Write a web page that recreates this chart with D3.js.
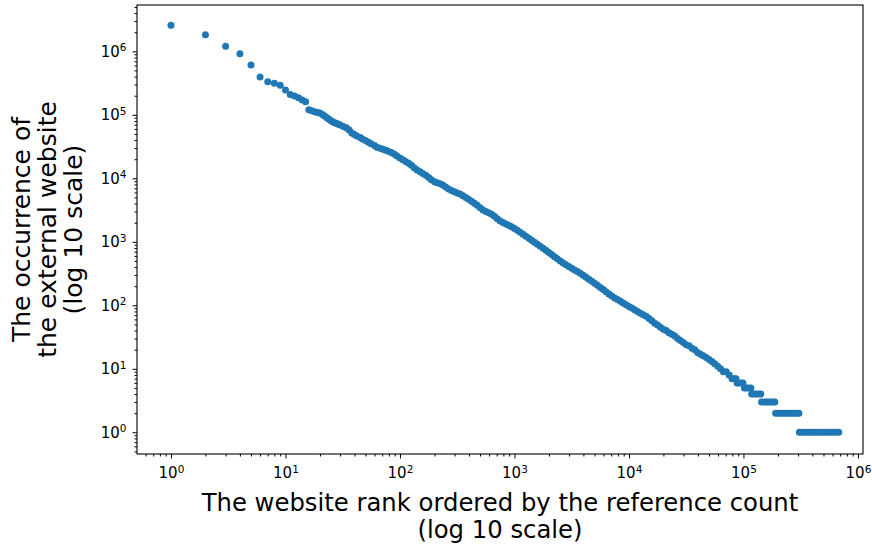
<!DOCTYPE html>
<meta charset="utf-8">
<style>
  body {
    margin: 0;
    background: #fff;
  }

  svg {
    font-family: "DejaVu Sans", sans-serif;
  }

  .axis path {
    display: none;
  }

  .axis line {
    stroke: #000;
    stroke-width: 1;
  }

  .axis text {
    fill: #000;
    font-size: 15px;
    font-family: "DejaVu Sans", sans-serif;
  }

  .label {
    fill: #000;
    font-size: 24.3px;
  }

  .label.y {
    font-size: 25px;
  }
</style>
<svg width="872" height="550"></svg>
<script src="https://d3js.org/d3.v7.min.js"></script>
<script>
  // website rank (x) and number of occurrences (y)
  var ranks = [
    1, 2, 3, 4, 5, 6, 7, 8, 9, 10, 11, 12, 13, 14, 15, 16, 17, 18, 19, 20,
    21, 22, 23, 24, 25, 26, 27, 28, 29, 30, 32, 34, 36, 38, 40, 42, 45, 47, 50, 53,
    56, 60, 63, 67, 71, 75, 79, 84, 89, 94, 100, 106, 112, 119, 126, 133, 141, 150, 158, 168,
    178, 188, 200, 211, 224, 237, 251, 266, 282, 299, 316, 335, 355, 376, 398, 422, 447, 473, 501, 531,
    562, 596, 631, 668, 708, 750, 794, 841, 891, 944, 1000, 1059, 1122, 1189, 1259, 1334, 1413, 1496, 1585, 1679,
    1778, 1884, 1995, 2113, 2239, 2371, 2512, 2661, 2818, 2985, 3162, 3350, 3548, 3758, 3981, 4217, 4467, 4732, 5012, 5309,
    5623, 5957, 6310, 6683, 7079, 7499, 7943, 8414, 8913, 9441, 10000, 10593, 11220, 11885, 12589, 13335, 14125, 14962, 15849, 16788,
    17783, 18836, 19953, 21135, 22387, 23714, 25119, 26607, 28184, 29854, 31623, 33497, 35481, 37584, 39811, 42170, 44668, 47315, 50119, 53088,
    56234, 59566, 63096, 66834, 70795, 74989, 79433, 83000, 86000, 88000, 91000, 95000, 99000, 102000, 106000, 111000, 116000, 118000, 124000, 130000,
    136000, 142000, 144000, 151000, 158000, 165000, 172000, 180000, 188000, 191000, 200000, 210000, 220000, 231000, 242000, 254000, 266000, 279000, 292000, 305000,
    308000, 325000, 345000, 365000, 385000, 405000, 430000, 455000, 480000, 510000, 540000, 570000, 605000, 640000, 680000
  ];
  var counts = [
    2565000, 1824000, 1199000, 916000, 608000, 394000, 332000, 313000, 292000, 246000, 210000, 198000, 186000, 171000, 161000, 120000, 116000, 112000, 109000, 107000,
    101000, 95500, 90000, 85000, 81000, 77000, 75000, 72800, 70800, 69000, 65800, 62400, 57500, 51900, 48800, 46400, 43900, 41600, 39300, 37100,
    35000, 33000, 31000, 29900, 28800, 27700, 26600, 25600, 24200, 22500, 20900, 19600, 18400, 17300, 16000, 14700, 13500, 12650, 11900, 11200,
    10350, 9480, 8870, 8530, 8180, 7850, 7300, 6780, 6410, 6140, 5890, 5650, 5320, 5010, 4690, 4350, 4050, 3770, 3450, 3170,
    3010, 2860, 2710, 2520, 2310, 2120, 2010, 1910, 1820, 1720, 1620, 1520, 1420, 1320, 1220, 1140, 1060, 985, 916, 851,
    791, 735, 681, 631, 583, 540, 499, 462, 434, 408, 384, 361, 340, 321, 297, 277, 257, 239, 222, 207,
    191, 177, 163, 151, 140, 130, 123, 116, 109, 102, 96, 91, 85, 80, 75, 71, 67, 62, 57, 52,
    49, 45, 42, 40, 37, 35, 33, 30, 28, 26, 24, 23, 21, 20, 18, 17, 16, 15, 14, 13,
    12, 11, 10, 9, 9, 8, 7, 7, 7, 6, 6, 6, 6, 5, 5, 5, 5, 4, 4, 4,
    4, 4, 3, 3, 3, 3, 3, 3, 3, 2, 2, 2, 2, 2, 2, 2, 2, 2, 2, 2,
    1, 1, 1, 1, 1, 1, 1, 1, 1, 1, 1, 1, 1, 1, 1
  ];

  // major ticks are powers of ten on both axes
  var tickValues = [1, 10, 100, 1000, 10000, 100000, 1000000];
  var tickExponents = ["0", "1", "2", "3", "4", "5", "6"];

  var xTitle = ["The website rank ordered by the reference count", "(log 10 scale)"];
  var yTitle = ["The occurrence of", "the external website", "(log 10 scale)"];

  var svg = d3.select("svg"),
    margin = {
      top: 5,
      right: 9,
      bottom: 96,
      left: 137
    },
    width = +svg.attr("width") - margin.left - margin.right,
    height = +svg.attr("height") - margin.top - margin.bottom;

  var x = d3.scaleLog().domain([0.505, 1.107e6]).range([0, width]),
    y = d3.scaleLog().domain([0.455, 5.37e6]).range([height, 0]);

  function isPow10(v) {
    var l = Math.log10(v);
    return Math.abs(l - Math.round(l)) < 1e-9;
  }

  var minorX = x.ticks(20).filter(function(d) { return !isPow10(d); }),
    minorY = y.ticks(20).filter(function(d) { return !isPow10(d); });

  var g = svg.append("g")
    .attr("transform", "translate(" + margin.left + "," + margin.top + ")");

  // minor ticks, no labels
  g.append("g")
    .attr("class", "axis")
    .attr("transform", "translate(0," + height + ")")
    .call(d3.axisBottom(x).tickValues(minorX).tickSize(2.5).tickFormat(""));
  g.append("g")
    .attr("class", "axis")
    .call(d3.axisLeft(y).tickValues(minorY).tickSize(2.5).tickFormat(""));

  // major ticks with 10^n labels
  function superscript(sel) {
    sel.selectAll(".tick text").each(function(d) {
      var t = d3.select(this).text(null);
      var i = tickValues.indexOf(d);
      t.append("tspan").text("10");
      t.append("tspan")
        .attr("dy", "-0.5em")
        .attr("font-size", "10.5px")
        .text(tickExponents[i]);
    });
  }

  g.append("g")
    .attr("class", "axis")
    .attr("transform", "translate(0," + height + ")")
    .call(d3.axisBottom(x).tickValues(tickValues).tickSize(4.5).tickPadding(9))
    .call(superscript);

  g.append("g")
    .attr("class", "axis")
    .call(d3.axisLeft(y).tickValues(tickValues).tickSize(4.5).tickPadding(6))
    .call(superscript);

  // the points
  g.selectAll(".dot")
    .data(d3.zip(ranks, counts))
    .join("circle")
    .attr("class", "dot")
    .attr("cx", function(d) { return x(d[0]); })
    .attr("cy", function(d) { return y(d[1]); })
    .attr("r", 3.5)
    .attr("fill", "#1f77b4");

  // frame
  g.append("rect")
    .attr("width", width)
    .attr("height", height)
    .attr("fill", "none")
    .attr("stroke", "#000")
    .attr("stroke-width", 1.1);

  // axis titles
  svg.append("text")
    .attr("class", "label")
    .attr("text-anchor", "middle")
    .attr("x", margin.left + width / 2)
    .attr("y", 511)
    .selectAll("tspan")
    .data(xTitle)
    .join("tspan")
    .attr("x", margin.left + width / 2)
    .attr("dy", function(d, i) { return i ? 27 : 0; })
    .text(function(d) { return d; });

  svg.append("text")
    .attr("class", "label y")
    .attr("text-anchor", "middle")
    .attr("transform", "translate(30," + (margin.top + height / 2) + ") rotate(-90)")
    .selectAll("tspan")
    .data(yTitle)
    .join("tspan")
    .attr("x", 0)
    .attr("dy", function(d, i) { return i ? 26 : 0; })
    .text(function(d) { return d; });
</script>
